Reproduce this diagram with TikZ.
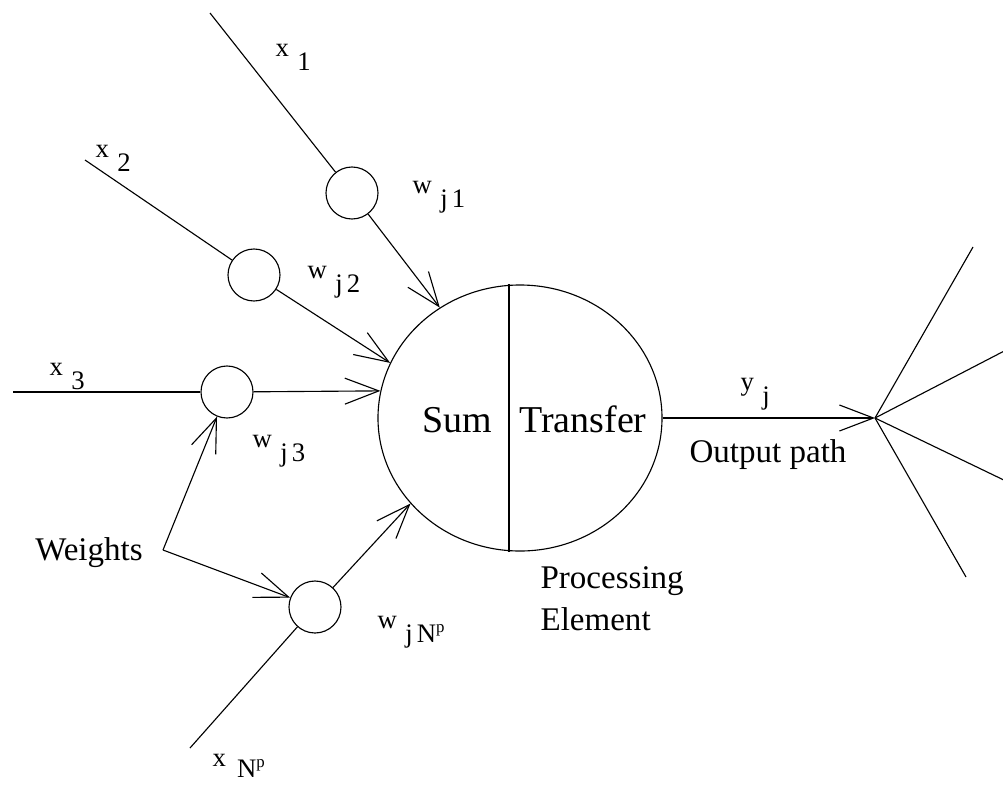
\documentclass[tikz,border=0pt]{standalone}
\usepackage{fontspec}
\setmainfont{Liberation Serif}
\usetikzlibrary{positioning,shapes.geometric,arrows.meta}
\newcommand{\sublbl}[2]{#1\hspace{6pt}\raisebox{-10pt}{#2}}
\newcommand{\Np}{N\raisebox{7pt}{\fontsize{12}{12}\selectfont p}}

\begin{document}
\begin{tikzpicture}[x=0.25mm, y=-0.25mm, line width=0.8pt,
  wnode/.style={draw, circle, minimum size=13mm, inner sep=0pt},
  arr/.style={-{Straight Barb[length=8.5mm,width=6.5mm]}},
  lbl/.style={anchor=base west, inner sep=0pt, font=\fontsize{19}{21}\selectfont},
  txt/.style={anchor=base, inner sep=0pt, font=\fontsize{23.5}{28.5}\selectfont},
  big/.style={font=\fontsize{27}{30}\selectfont}]
\useasboundingbox (0,0) rectangle (1003,784);
\node[draw, ellipse, minimum width=71mm, minimum height=66.5mm, inner sep=0pt] (pe) at (520,418) {};
\node[wnode] (w1) at (352,193) {};
\node[wnode] (w2) at (254,275) {};
\node[wnode] (w3) at (227,392) {};
\node[wnode] (w4) at (315,607) {};
\coordinate (in1) at (210,13);
\coordinate (in2) at (85,160);
\coordinate (in3) at (13,392);
\coordinate (in4) at (190,748);
\coordinate (wts) at (163,550);
\coordinate (hub) at (875,418);
\coordinate (f1) at (973,247);
\coordinate (f2) at (1010,348);
\coordinate (f3) at (1010,483);
\coordinate (f4) at (966,577);
\draw ([xshift=-2.75mm]pe.north) -- ([xshift=-2.75mm]pe.south);
\draw (in1) -- (w1); \draw (in2) -- (w2); \draw (in3) -- (w3); \draw (in4) -- (w4);
\draw[arr] (w1) -- (pe.126.8); \draw[arr] (w2) -- (pe.157);
\draw[arr] (w3) -- (pe.169.4); \draw[arr] (w4) -- (pe.218.2);
\draw[arr] (wts) -- (w3); \draw[arr] (wts) -- (w4);
\draw[arr] (pe.east) -- (hub);
\foreach \f in {f1,f2,f3,f4} \draw (hub) -- (\f);
\node[lbl] (lx1) at (275,56) {\sublbl{x}{1}};
\node[lbl] (lx2) at (95,157) {\sublbl{x}{2}};
\node[lbl] (lx3) at (49,375) {\sublbl{x}{3}};
\node[lbl] (lxn) at (212,766) {x\hspace{8pt}\raisebox{-8pt}{\Np}};
\node[lbl] (lw1) at (412,193) {\sublbl{w}{j\hspace{3pt}1}};
\node[lbl] (lw2) at (307,278) {\sublbl{w}{j\hspace{3pt}2}};
\node[lbl] (lw3) at (252,447) {\sublbl{w}{j\hspace{3pt}3}};
\node[lbl] (lwn) at (377,628) {\sublbl{w}{j\hspace{3pt}\Np}};
\node[lbl] (ly) at (740,390) {\sublbl{y}{j}};
\node[txt, big] (sum) at (457,432) {Sum};
\node[txt, big] (tr) at (583,432) {Transfer};
\node[txt] (wlab) at (89,560) {Weights};
\node[txt] (out) at (768,462) {Output path};
\node[txt, anchor=base west] (proc) at (540,588) {Processing};
\node[txt, anchor=base west] (elem) at (540,630) {Element};
\end{tikzpicture}
\end{document}
